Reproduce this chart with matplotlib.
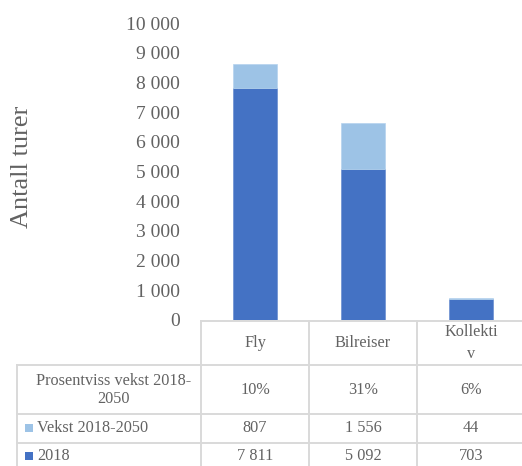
import matplotlib

matplotlib.use("Agg")
import matplotlib.pyplot as plt
from matplotlib.lines import Line2D
from matplotlib.patches import Rectangle
from matplotlib.transforms import blended_transform_factory

W, H = 522, 466

categories = ["Fly", "Bilreiser", "Kollekti\nv"]
base_2018 = [7811, 5092, 703]
growth = [807, 1556, 44]
growth_pct = ["10%", "31%", "6%"]
yticks = [0, 1000, 2000, 3000, 4000, 5000, 6000, 7000, 8000, 9000, 10000]

DARK = "#4472C4"
LIGHT = "#9DC3E6"
GRID = "#D9D9D9"
TEXT = "#626262"

plt.rcParams["font.family"] = ["Liberation Serif", "DejaVu Serif"]


def fx(px):
    return px / W


def fy(py):
    return 1 - py / H


def fmt(v):
    return f"{v:,}".replace(",", " ")


fig = plt.figure(figsize=(W / 100, H / 100), dpi=100)
ax = fig.add_axes([fx(201), fy(320), 324 / W, 297 / H])

xs = list(range(len(categories)))
ax.bar(xs, base_2018, width=0.41, color=DARK, edgecolor="#6B8FD0", linewidth=0.5)
ax.bar(xs, growth, bottom=base_2018, width=0.41, color=LIGHT, edgecolor="#B5D3EE", linewidth=0.5)

ax.set_xlim(-0.5, len(categories) - 0.5)
ax.set_ylim(0, 10000)
ax.set_yticks(yticks)
ax.set_yticklabels([fmt(v) for v in yticks])
ax.tick_params(axis="y", length=0, pad=15, labelsize=14, labelcolor=TEXT)
ax.set_xticks([])
for s in ax.spines.values():
    s.set_visible(False)

fig.text(fx(22), fy(167), "Antall turer", rotation=90, ha="center", va="center",
         fontsize=19, color=TEXT)

# data table under the plot: x follows the category axis, y in figure units
tr = blended_transform_factory(ax.transData, fig.transFigure)
line_kw = dict(color=GRID, linewidth=1.4)

x_right = len(categories) - 0.5 + 0.05
fig.add_artist(Line2D([-0.5, x_right], [fy(321)] * 2, transform=tr, **line_kw))
for yy in (365, 414, 443):
    fig.add_artist(Line2D([fx(17), 1.01], [fy(yy)] * 2, transform=fig.transFigure, **line_kw))
fig.add_artist(Line2D([fx(17)] * 2, [fy(365), fy(470)], transform=fig.transFigure, **line_kw))
for i in range(len(categories)):
    fig.add_artist(Line2D([i - 0.5] * 2, [fy(321), fy(470)], transform=tr, **line_kw))

cell_kw = dict(ha="center", va="center", fontsize=11.7, color=TEXT, transform=tr,
               linespacing=1.45)
for i, cat in enumerate(categories):
    fig.text(i, fy(343), cat, **cell_kw)
    fig.text(i, fy(390), growth_pct[i], **cell_kw)
    fig.text(i, fy(428), fmt(growth[i]), **cell_kw)
    fig.text(i, fy(456), fmt(base_2018[i]), **cell_kw)

fig.text(fx(114), fy(390), "Prosentviss vekst 2018-\n2050", ha="center", va="center",
         fontsize=11.7, color=TEXT, linespacing=1.15)
fig.text(fx(37), fy(428), "Vekst 2018-2050", ha="left", va="center", fontsize=11.7, color=TEXT)
fig.text(fx(37), fy(456), "2018", ha="left", va="center", fontsize=11.7, color=TEXT)
for yy, col in ((428, LIGHT), (456, DARK)):
    fig.add_artist(Rectangle((fx(25), fy(yy + 4)), 8 / W, 8 / H, transform=fig.transFigure,
                             color=col, linewidth=0))

fig.savefig("out.png", dpi=100)
